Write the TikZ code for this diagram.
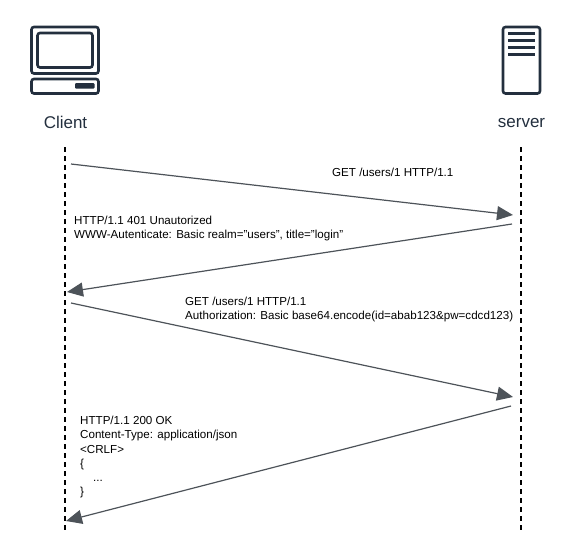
\documentclass[tikz,border=0pt]{standalone}
\usepackage{fontspec}
\setmainfont{Liberation Sans}
\usetikzlibrary{arrows.meta}
\definecolor{icondark}{HTML}{232F3E}
\definecolor{linegray}{HTML}{4D5359}
\tikzset{
  lifeline/.style={black,line width=1.1pt,dash pattern=on 4.5pt off 4.5pt},
  message/.style={linegray,line width=1.2pt,-{Triangle[length=16pt,width=14pt]}},
  msgtext/.style={inner sep=0pt,align=left,anchor=north west,font=\fontsize{11.6}{14.2}\selectfont,text=black},
  iconline/.style={icondark,line width=2.6pt,rounded corners=2.5pt}
}
\begin{document}
\begin{tikzpicture}[x=1pt,y=-1pt]
\useasboundingbox (0,0) rectangle (567,552);
% client icon
\draw[iconline] (31.5,27) rectangle (98.5,73.5);
\draw[iconline] (37.5,33) rectangle (92.5,67.5);
\draw[iconline] (31.5,79) rectangle (98.5,93.5);
\fill[icondark,rounded corners=1pt] (75,83) rectangle (94.5,88.5);
% server icon
\draw[iconline] (503,27) rectangle (540,93.5);
\foreach \y in {33.5,40.5,47.5,54.5}{\fill[icondark] (508,\y-1.7) rectangle (535,\y+1.7);}
\node[font=\fontsize{17}{20}\selectfont,text=icondark] (client) at (65.5,122.5) {Client};
\node[font=\fontsize{17}{20}\selectfont,text=icondark] (server) at (521.5,123.5) {server};
% lifelines
\coordinate (c0) at (65,147);
\coordinate (c1) at (65,531);
\coordinate (s0) at (521,147);
\coordinate (s1) at (521,531);
\draw[lifeline] (c0) -- (c1);
\draw[lifeline] (s0) -- (s1);
% messages
\coordinate (a1) at (71,164);
\coordinate (b1) at (513,215);
\coordinate (a2) at (512,224);
\coordinate (b2) at (67,292);
\coordinate (a3) at (71,303);
\coordinate (b3) at (513,397);
\coordinate (a4) at (511,406);
\coordinate (b4) at (66,521);
\draw[message] (a1) -- (b1);
\draw[message] (a2) -- (b2);
\draw[message] (a3) -- (b3);
\draw[message] (a4) -- (b4);
\node[msgtext] (req1) at (332,168) {GET /users/1 HTTP/1.1};
\node[msgtext] (res1) at (74,215.5) {HTTP/1.1 401 Unautorized\\WWW-Autenticate: Basic realm="users", title="login"};
\node[msgtext] (req2) at (185,296.5) {GET /users/1 HTTP/1.1\\Authorization: Basic base64.encode(id=abab123\&pw=cdcd123)};
\node[msgtext] (res2) at (80,416) {HTTP/1.1 200 OK\\Content-Type: application/json\\<CRLF>\\\{\\\hspace*{13pt}...\\\}};
\end{tikzpicture}
\end{document}
